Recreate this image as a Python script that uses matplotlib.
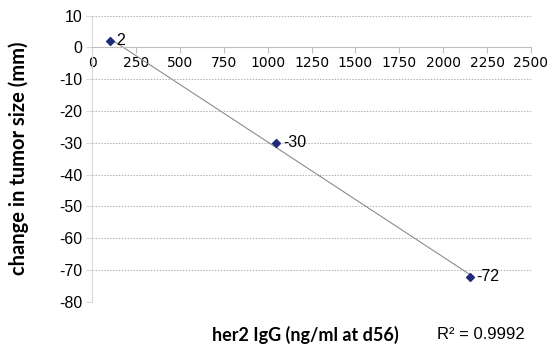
import numpy as np
import matplotlib
matplotlib.use("Agg")
import matplotlib.pyplot as plt

# data
igg = [100, 1050, 2150]
tumor_change = [2, -30, -72]
point_labels = ["2", "-30", "-72"]
x_ticks = [0, 250, 500, 750, 1000, 1250, 1500, 1750, 2000, 2250, 2500]
y_ticks = [10, 0, -10, -20, -30, -40, -50, -60, -70, -80]
r2_text = "R\u00b2 = 0.9992"

fig = plt.figure(figsize=(5.58, 3.47), dpi=100)
ax = fig.add_axes([0.1649, 0.1297, 0.7867, 0.8256])

# linear trendline
slope, icpt = np.polyfit(igg, tumor_change, 1)
tx = np.array([min(igg), max(igg)])
ax.plot(tx, slope * tx + icpt, color="#8c8c8c", lw=0.8, zorder=2)

ax.scatter(igg, tumor_change, marker="D", s=16, color="#1f2a78", zorder=3)
for x, y, lab in zip(igg, tumor_change, point_labels):
    ax.annotate(lab, (x, y), xytext=(5, 0), textcoords="offset points",
                va="center", ha="left", fontsize=11.5, family="Liberation Sans")

ax.set_xlim(0, 2500)
ax.set_ylim(-80, 10)
ax.set_xticks(x_ticks)
ax.set_yticks(y_ticks)
ax.set_xticklabels([str(t) for t in x_ticks], family="Lato", fontsize=9.5)
ax.set_yticklabels([str(t) for t in y_ticks], family="Liberation Sans", fontsize=11.5)

for v in y_ticks:
    if v != 0:
        ax.axhline(v, color="#b0b0b0", lw=0.7, ls=(0, (1.5, 1.5)), zorder=1)

ax.spines["top"].set_visible(False)
ax.spines["right"].set_visible(False)
ax.spines["bottom"].set_position(("data", 0))
ax.spines["bottom"].set_color("#bfbfbf")
ax.spines["left"].set_color("#d9d9d9")
ax.tick_params(axis="x", direction="out", length=4, color="#bfbfbf", pad=2)
ax.tick_params(axis="y", direction="out", length=4, color="#d9d9d9", pad=3)

fig.text(0.034, 0.545, "change in tumor size (mm)", family="Lato", fontweight="bold",
         fontsize=14.5, ha="center", va="center", rotation=90)
fig.text(0.547, 0.035, "her2 IgG (ng/ml at d56)", family="Lato", fontweight="bold",
         fontsize=13, ha="center", va="center")
fig.text(0.862, 0.035, r2_text, family="Liberation Sans", fontsize=12,
         ha="center", va="center")

fig.savefig("out.png", dpi=100)
